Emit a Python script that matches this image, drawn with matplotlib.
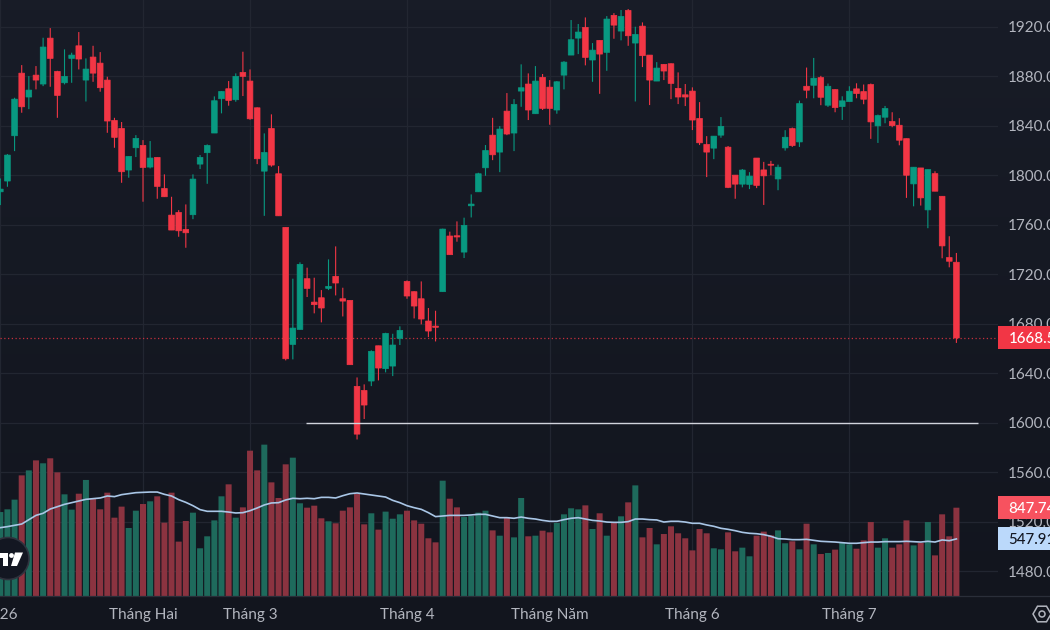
#!/usr/bin/env python3
import numpy as np
import matplotlib
matplotlib.use("Agg")
import matplotlib.pyplot as plt
from matplotlib.colors import LinearSegmentedColormap
from matplotlib.lines import Line2D
from matplotlib.patches import Circle, Polygon, Rectangle, RegularPolygon
from matplotlib.transforms import Affine2D

plt.rcParams['font.family'] = ['Lato', 'DejaVu Sans']

opens = [1786.6, 1795.3, 1831.9, 1882.5, 1863.2, 1880.9, 1873.7, 1910.8, 1883.9, 1874.7,
         1894.4, 1904.6, 1876.9, 1895.5, 1890.6, 1876.9, 1844.3, 1837.8, 1804.2, 1822.2,
         1824.1, 1806.6, 1814.4, 1789.3, 1767.8, 1769.9, 1756.2, 1768.1, 1809.0, 1818.2,
         1834.1, 1861.8, 1869.9, 1861.0, 1883.1, 1876.1, 1854.5, 1803.3, 1837.8, 1801.2,
         1757.9, 1663.3, 1675.4, 1716.4, 1697.5, 1701.0, 1708.6, 1718.3, 1700.2, 1698.9,
         1629.4, 1626.1, 1633.7, 1662.2, 1643.7, 1645.8, 1668.2, 1714.2, 1705.9, 1700.2,
         1682.2, 1678.1, 1705.9, 1750.9, 1751.1, 1737.9, 1775.3, 1786.6, 1806.0, 1832.4,
         1818.7, 1851.8, 1834.1, 1868.0, 1873.7, 1849.7, 1879.1, 1871.2, 1852.7, 1880.9,
         1897.1, 1910.8, 1919.5, 1893.1, 1909.0, 1899.3, 1929.2, 1916.5, 1933.2, 1906.8,
         1920.5, 1897.1, 1876.1, 1889.6, 1890.1, 1870.2, 1865.0, 1868.0, 1845.9, 1824.9,
         1821.9, 1832.4, 1822.7, 1800.1, 1792.8, 1792.6, 1813.9, 1804.3, 1808.9, 1797.0,
         1822.1, 1837.7, 1826.9, 1871.9, 1872.7, 1878.9, 1856.6, 1869.2, 1855.5, 1859.5,
         1869.8, 1867.6, 1873.3, 1839.9, 1846.9, 1843.4, 1840.4, 1829.6, 1793.0, 1805.9,
         1772.0, 1801.3, 1783.0, 1733.5, 1729.7]
closes = [1788.8, 1816.3, 1861.5, 1855.3, 1868.8, 1876.9, 1903.6, 1894.4, 1864.5, 1879.9,
          1897.1, 1893.9, 1885.8, 1882.5, 1870.7, 1843.8, 1830.6, 1802.8, 1815.2, 1829.8,
          1806.3, 1813.9, 1791.0, 1782.6, 1755.7, 1755.1, 1753.5, 1796.9, 1814.4, 1824.1,
          1860.2, 1867.7, 1860.5, 1879.9, 1879.9, 1845.6, 1813.3, 1818.4, 1808.2, 1767.2,
          1651.7, 1676.5, 1728.0, 1708.6, 1695.4, 1692.7, 1710.2, 1712.9, 1698.3, 1646.9,
          1590.8, 1614.3, 1657.7, 1644.2, 1672.2, 1662.8, 1674.6, 1702.4, 1694.3, 1683.8,
          1674.1, 1677.1, 1756.5, 1735.8, 1750.1, 1759.5, 1776.7, 1801.2, 1820.0, 1816.5,
          1837.3, 1833.3, 1857.2, 1870.7, 1852.7, 1876.1, 1854.0, 1854.0, 1875.5, 1891.4,
          1909.5, 1915.7, 1895.2, 1901.1, 1897.9, 1926.2, 1921.3, 1928.3, 1912.7, 1913.8,
          1896.6, 1876.9, 1886.6, 1884.2, 1874.2, 1863.2, 1863.2, 1844.6, 1826.2, 1818.7,
          1831.6, 1839.5, 1790.2, 1792.8, 1804.2, 1799.3, 1791.8, 1799.5, 1808.1, 1806.5,
          1830.7, 1824.0, 1857.9, 1868.7, 1878.4, 1863.0, 1871.9, 1854.7, 1860.1, 1867.9,
          1866.0, 1861.4, 1843.1, 1848.2, 1853.9, 1840.1, 1828.3, 1800.0, 1806.5, 1781.7,
          1804.6, 1787.1, 1742.9, 1730.5, 1668.5]
highs = [1797.4, 1817.1, 1862.6, 1889.0, 1880.1, 1888.2, 1911.1, 1918.9, 1884.4, 1901.7,
         1899.0, 1915.7, 1894.4, 1904.6, 1899.5, 1879.6, 1846.4, 1843.0, 1815.2, 1832.4,
         1828.4, 1827.6, 1814.4, 1800.7, 1782.6, 1771.8, 1776.4, 1800.7, 1816.3, 1824.9,
         1863.7, 1868.0, 1876.1, 1882.3, 1899.8, 1885.5, 1854.8, 1833.8, 1849.2, 1807.4,
         1757.9, 1716.4, 1729.6, 1725.3, 1717.2, 1707.2, 1732.0, 1742.5, 1709.1, 1698.9,
         1636.6, 1631.0, 1658.5, 1662.2, 1672.7, 1671.9, 1677.9, 1715.0, 1706.2, 1714.2,
         1692.7, 1690.5, 1756.8, 1754.4, 1762.7, 1765.7, 1784.5, 1802.0, 1824.4, 1846.4,
         1839.7, 1866.4, 1861.5, 1889.6, 1882.3, 1888.2, 1881.8, 1876.9, 1876.1, 1892.2,
         1925.4, 1922.2, 1927.5, 1906.8, 1909.0, 1928.6, 1931.0, 1933.5, 1934.3, 1920.0,
         1923.5, 1897.1, 1891.4, 1889.8, 1890.4, 1883.1, 1873.7, 1871.0, 1859.1, 1831.6,
         1831.6, 1847.0, 1823.6, 1800.1, 1805.0, 1802.5, 1813.9, 1810.8, 1811.6, 1808.6,
         1836.4, 1838.5, 1860.3, 1887.0, 1894.8, 1880.3, 1874.1, 1869.5, 1863.8, 1871.9,
         1874.3, 1873.3, 1874.1, 1849.0, 1856.0, 1850.9, 1846.1, 1829.6, 1806.5, 1805.9,
         1804.6, 1803.2, 1783.0, 1750.7, 1737.2]
lows = [1775.9, 1790.7, 1819.5, 1850.5, 1853.4, 1869.4, 1872.0, 1871.5, 1846.4, 1873.4,
        1874.7, 1885.5, 1859.6, 1875.5, 1867.5, 1834.3, 1822.2, 1793.9, 1798.0, 1814.7,
        1778.6, 1805.5, 1781.0, 1782.6, 1755.7, 1750.3, 1741.4, 1764.5, 1805.0, 1793.1,
        1834.1, 1850.0, 1856.2, 1859.4, 1864.0, 1844.8, 1809.0, 1767.2, 1806.9, 1767.2,
        1650.4, 1651.2, 1675.4, 1701.6, 1688.4, 1681.1, 1707.2, 1702.9, 1685.9, 1646.9,
        1586.5, 1603.0, 1629.6, 1634.2, 1640.7, 1637.7, 1662.8, 1700.2, 1684.3, 1679.5,
        1669.2, 1665.7, 1705.9, 1735.8, 1746.3, 1733.1, 1765.9, 1786.6, 1799.6, 1812.2,
        1802.5, 1832.4, 1819.5, 1855.3, 1844.6, 1849.7, 1852.7, 1840.8, 1849.7, 1869.4,
        1897.1, 1897.9, 1888.8, 1875.5, 1865.8, 1884.4, 1910.3, 1909.0, 1904.6, 1859.6,
        1887.4, 1856.7, 1876.1, 1876.9, 1861.5, 1857.5, 1855.9, 1836.5, 1824.4, 1798.5,
        1813.0, 1830.3, 1789.6, 1781.0, 1790.2, 1788.8, 1789.6, 1776.0, 1800.0, 1787.9,
        1819.9, 1822.9, 1822.9, 1862.2, 1862.2, 1856.6, 1855.2, 1850.9, 1844.7, 1859.5,
        1862.2, 1857.4, 1829.4, 1826.1, 1842.0, 1838.8, 1824.2, 1781.7, 1774.9, 1775.5,
        1757.2, 1787.1, 1732.9, 1725.6, 1664.5]
volumes = [806, 832, 925, 1158, 1206, 1302, 1274, 1322, 1187, 976,
           829, 982, 1114, 934, 832, 992, 752, 858, 653, 819,
           883, 909, 957, 704, 992, 522, 720, 800, 458, 573,
           726, 957, 1072, 752, 851, 1395, 1206, 1453, 1091, 941,
           1264, 1328, 890, 848, 867, 746, 717, 698, 819, 851,
           982, 688, 794, 637, 810, 742, 784, 819, 726, 694,
           554, 515, 1107, 934, 851, 758, 768, 800, 819, 630,
           579, 752, 563, 941, 573, 579, 627, 611, 701, 784,
           842, 832, 870, 643, 794, 579, 701, 765, 899, 1062,
           563, 653, 496, 595, 669, 602, 554, 438, 643, 602,
           458, 448, 611, 429, 464, 381, 579, 618, 582, 630,
           506, 525, 448, 694, 496, 403, 413, 445, 509, 496,
           454, 534, 710, 464, 554, 464, 496, 726, 486, 509,
           710, 390, 784, 573, 847.74]
volume_ma = [656, 666, 678, 691, 733, 774, 794, 835, 858, 880,
             896, 912, 928, 934, 941, 960, 954, 973, 982, 992,
             995, 998, 998, 976, 960, 925, 899, 867, 829, 813,
             813, 813, 806, 797, 800, 819, 845, 874, 893, 896,
             922, 938, 934, 938, 934, 947, 947, 941, 963, 982,
             989, 979, 970, 960, 950, 918, 896, 867, 848, 832,
             800, 762, 768, 774, 774, 774, 778, 784, 784, 768,
             752, 752, 746, 758, 746, 739, 726, 717, 717, 733,
             746, 752, 739, 726, 720, 710, 707, 707, 714, 739,
             739, 733, 730, 710, 717, 717, 710, 698, 698, 682,
             669, 650, 640, 627, 611, 602, 598, 589, 573, 550,
             547, 541, 541, 544, 534, 525, 522, 518, 512, 506,
             506, 512, 518, 518, 522, 522, 522, 525, 522, 518,
             525, 518, 538, 531, 547.91]

price_ticks = [1480, 1520, 1560, 1600, 1640, 1680, 1720, 1760, 1800, 1840, 1880, 1920]
month_positions = [0, 20, 35, 57, 77, 97, 119]
month_labels = ['2026', 'Tháng Hai', 'Tháng 3', 'Tháng 4', 'Tháng Năm', 'Tháng 6', 'Tháng 7']
support_level = 1600
support_start, support_end = 42.85, 137

UP = '#089981'
DOWN = '#f23645'
UP_VOL = '#1e6a5c'
DOWN_VOL = '#8b3340'
GRID = '#222631'
TEXT = '#b2b5be'
W, H, PANE_W, PANE_H = 1050, 630, 998, 596

x = np.arange(len(closes))
o, c, hi, lo = map(np.array, (opens, closes, highs, lows))
up = c >= o

fig = plt.figure(figsize=(W / 100, H / 100), dpi=100)

# background gets a little darker towards the bottom
bg = fig.add_axes([0, 0, 1, 1], zorder=0)
bg.imshow(np.linspace(0, 1, 64).reshape(-1, 1), aspect='auto',
          cmap=LinearSegmentedColormap.from_list('bg', ['#181c27', '#12151e']))
bg.axis('off')

pane = [0, (H - PANE_H) / H, PANE_W / W, PANE_H / H]
ax = fig.add_axes(pane, zorder=1)
ax.patch.set_visible(False)
ax.set_xlim(-0.042, 139.83)
ax.set_ylim(1460.0, 1941.6)
for s in ax.spines.values():
    s.set_visible(False)

ax.set_axisbelow(True)
ax.grid(True, color=GRID, lw=0.9)
ax.set_xticks(month_positions, month_labels)
ax.set_yticks(price_ticks, [f'{t:.1f}' for t in price_ticks])
ax.yaxis.tick_right()
ax.tick_params(axis='both', length=0, labelcolor=TEXT, labelsize=11)
ax.tick_params(axis='y', pad=7.3)
ax.tick_params(axis='x', pad=8.5)

# candles
candle_colors = [UP if u else DOWN for u in up]
wicks = ax.vlines(x, lo, hi, colors=candle_colors, lw=0.8, zorder=3)
wicks.set_snap(False)
bodies = ax.bar(x, np.abs(c - o), bottom=np.minimum(o, c), width=0.8, color=candle_colors,
                edgecolor=candle_colors, lw=0.5, zorder=4)
for b in bodies:
    b.set_snap(False)

ax.axhline(closes[-1], color=DOWN, lw=0.9, ls=(0, (1, 2)), alpha=0.8, zorder=2)
ax.hlines(support_level, support_start, support_end, color='#d1d4dc', lw=1.0, zorder=5)

# volume pane shares the same area, 9.6 volume units per pixel
ax_vol = fig.add_axes(pane, zorder=2)
ax_vol.patch.set_visible(False)
ax_vol.set_xlim(ax.get_xlim())
ax_vol.set_ylim(0, PANE_H * 9.6)
ax_vol.axis('off')
vol_bars = ax_vol.bar(x, volumes, width=0.84, color=[UP_VOL if u else DOWN_VOL for u in up], lw=0)
for b in vol_bars:
    b.set_snap(False)
ax_vol.plot(x, volume_ma, color='#a9c6e6', lw=1.2, zorder=3)


def value_tag(axis, value, label, fill, color):
    yc = axis.transData.transform((0, value))[1] / H
    fig.add_artist(Rectangle((PANE_W / W, yc - 11.5 / H), 1 - PANE_W / W, 23 / H,
                             transform=fig.transFigure, fc=fill, ec='none', zorder=5))
    fig.text(1008.5 / W, yc, label, color=color, fontsize=10.8, fontweight='medium',
             va='center_baseline', ha='left', zorder=6)


value_tag(ax, closes[-1], f'{closes[-1]:.1f}', DOWN, 'white')
value_tag(ax_vol, volumes[-1], f'{volumes[-1]:.2f}', '#f7525f', 'white')
value_tag(ax_vol, volume_ma[-1], f'{volume_ma[-1]:.2f}', '#bbd9fb', '#131722')

# separator above the time scale
fig.add_artist(Line2D([0, 1], [(H - PANE_H) / H] * 2, color='#2a2e39', lw=0.9, zorder=3))

# badge in the bottom left, drawn in pixel coordinates
px = Affine2D().scale(1, -1).translate(0, H)
fig.add_artist(Circle((8, 558.5), 21, transform=px, fc='#131722', ec='#2f333e', lw=1.2, zorder=7))
fig.add_artist(Polygon([(0, 553), (7.5, 553), (7.5, 566), (3, 566), (3, 558), (0, 558)],
                       transform=px, fc='white', ec='none', zorder=8))
fig.add_artist(Circle((11.5, 555.5), 2.4, transform=px, fc='white', ec='none', zorder=8))
fig.add_artist(Polygon([(15, 552.5), (23, 552.5), (17, 566), (11, 566)], transform=px,
                       fc='white', ec='none', zorder=8))

# settings hexagon in the bottom right
fig.add_artist(RegularPolygon((1042, 614), 6, radius=9, orientation=np.pi / 6, transform=px,
                              fc='none', ec=TEXT, lw=1.1, zorder=8))
fig.add_artist(Circle((1042, 614), 3, transform=px, fc='none', ec=TEXT, lw=1.1, zorder=8))

fig.savefig('out.png', dpi=100)
